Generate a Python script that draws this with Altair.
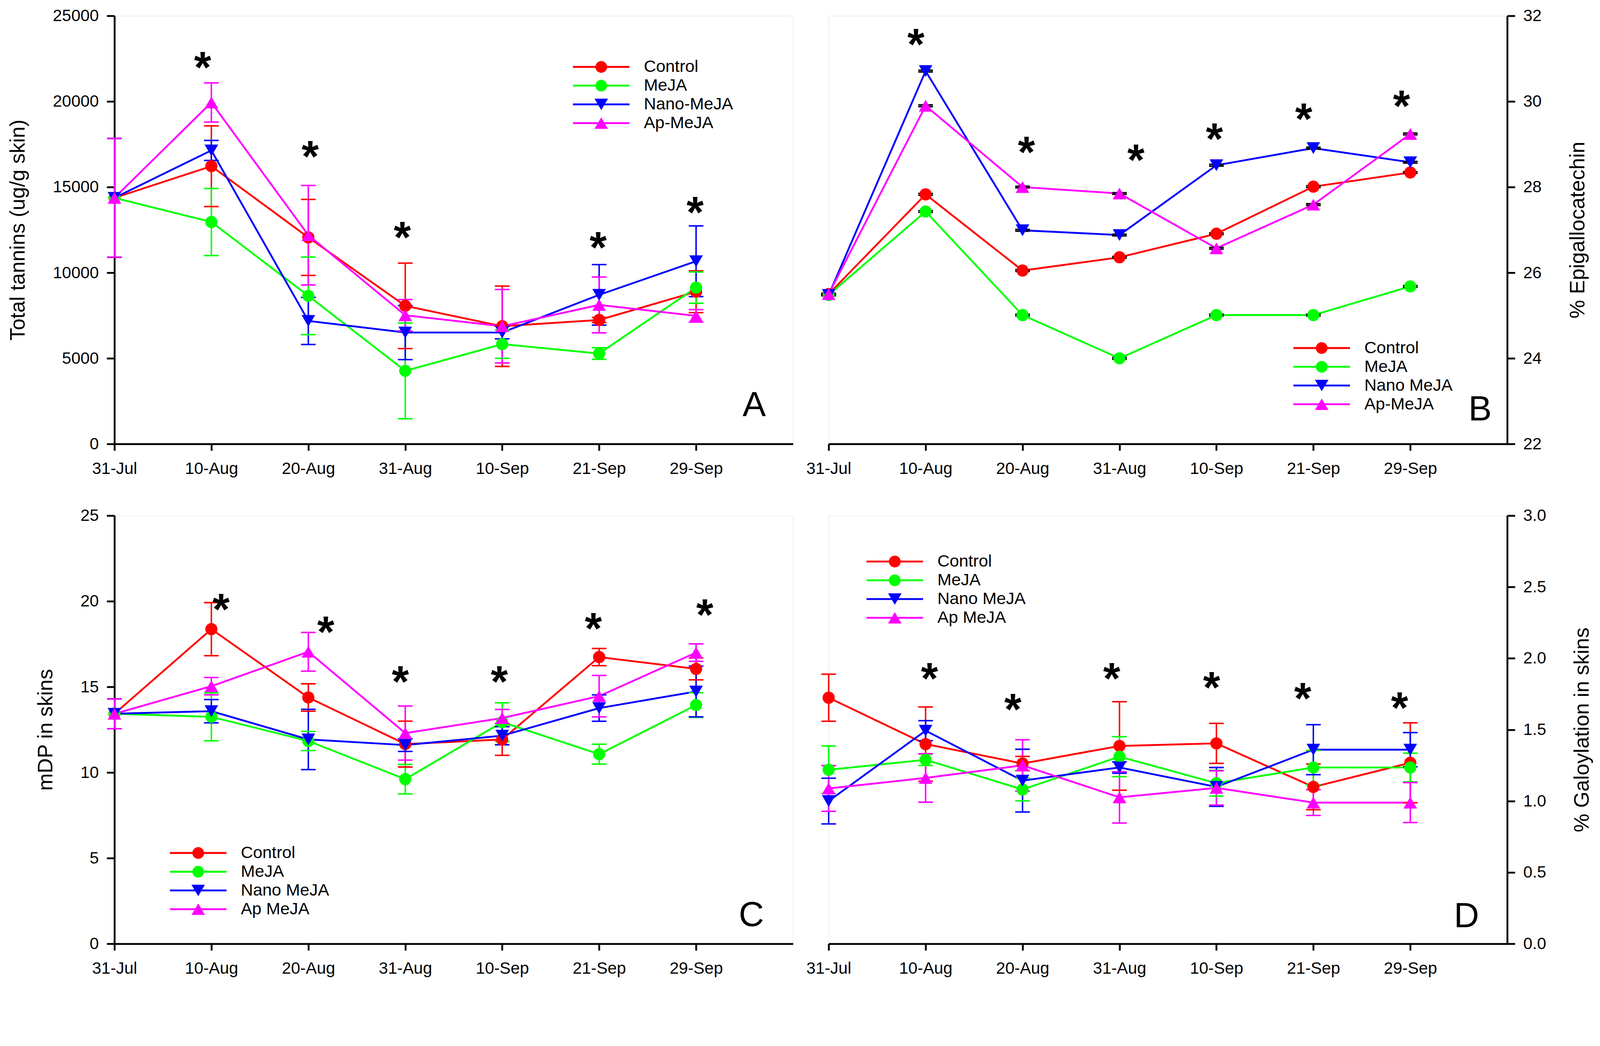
import altair as alt
import pandas as pd

DATES = ["31-Jul", "10-Aug", "20-Aug", "31-Aug", "10-Sep", "21-Sep", "29-Sep"]
COLORS = ["#FF0000", "#00FF00", "#0000FF", "#FF00FF"]
SHAPES = ["circle", "circle", "triangle-down", "triangle-up"]

A_LABELS = ["Control", "MeJA", "Nano-MeJA", "Ap-MeJA"]
A_CONTROL = [14370, 16220, 12060, 8065, 6873, 7240, 8890]
A_CONTROL_SD = [3470, 2355, 2220, 2495, 2345, 150, 1220]
A_MEJA = [14370, 12960, 8650, 4270, 5830, 5280, 9130]
A_MEJA_SD = [3470, 1960, 2265, 2795, 830, 340, 915]
A_NANO = [14370, 17140, 7185, 6507, 6507, 8706, 10670]
A_NANO_SD = [3470, 585, 1375, 1580, 370, 1770, 2065]
A_AP = [14370, 19940, 12190, 7515, 6873, 8120, 7480]
A_AP_SD = [3470, 1145, 2905, 915, 2145, 1630, 365]
A_STAR_X = [0.91, 2.02, 2.97, 4.99, 5.99]
A_STAR_Y = [22620, 17410, 12680, 12100, 14150]

B_LABELS = ["Control", "MeJA", "Nano MeJA", "Ap-MeJA"]
B_CONTROL = [25.50, 27.83, 26.05, 26.36, 26.91, 28.01, 28.34]
B_MEJA = [25.48, 27.43, 25.01, 24.00, 25.01, 25.01, 25.68]
B_NANO = [25.48, 30.71, 26.99, 26.88, 28.51, 28.91, 28.58]
B_AP = [25.50, 29.90, 28.00, 27.85, 26.57, 27.59, 29.24]
B_SD = [0.02, 0.02, 0.02, 0.02, 0.02, 0.02, 0.02]
B_STAR_X = [0.90, 2.04, 3.17, 3.98, 4.90, 5.91]
B_STAR_Y = [31.58, 29.06, 28.88, 29.37, 29.84, 30.14]

C_LABELS = ["Control", "\u00a0MeJA", "Nano MeJA", "Ap MeJA"]
C_CONTROL = [13.43, 18.37, 14.38, 11.66, 11.93, 16.74, 16.05]
C_CONTROL_SD = [0.87, 1.55, 0.80, 1.34, 0.93, 0.50, 0.64]
C_MEJA = [13.43, 13.25, 11.84, 9.61, 12.94, 11.07, 13.94]
C_MEJA_SD = [0.87, 1.40, 0.56, 0.86, 1.13, 0.58, 0.72]
C_NANO = [13.43, 13.58, 11.93, 11.60, 12.15, 13.76, 14.73]
C_NANO_SD = [0.87, 0.68, 1.76, 0.37, 0.53, 0.77, 1.48]
C_AP = [13.43, 15.04, 17.05, 12.30, 13.18, 14.46, 17.00]
C_AP_SD = [0.87, 0.51, 1.13, 1.58, 0.50, 1.21, 0.51]
C_STAR_X = [1.10, 2.18, 2.95, 3.97, 4.94, 6.09]
C_STAR_Y = [20.16, 18.82, 15.94, 15.94, 19.04, 19.83]

D_LABELS = ["Control", "MeJA", "Nano MeJA", "Ap MeJA"]
D_CONTROL = [1.724, 1.399, 1.263, 1.386, 1.404, 1.099, 1.268]
D_CONTROL_SD = [0.165, 0.26, 0.05, 0.31, 0.14, 0.16, 0.28]
D_MEJA = [1.219, 1.289, 1.081, 1.311, 1.125, 1.235, 1.235]
D_MEJA_SD = [0.167, 0.04, 0.08, 0.14, 0.09, 0.12, 0.10]
D_NANO = [1.000, 1.493, 1.143, 1.235, 1.099, 1.360, 1.360]
D_NANO_SD = [0.16, 0.07, 0.22, 0.04, 0.136, 0.175, 0.12]
D_AP = [1.088, 1.162, 1.250, 1.026, 1.092, 0.989, 0.989]
D_AP_SD = [0.16, 0.17, 0.18, 0.18, 0.12, 0.09, 0.14]
D_STAR_X = [1.04, 1.90, 2.92, 3.95, 4.89, 5.89]
D_STAR_Y = [1.934, 1.717, 1.934, 1.871, 1.794, 1.728]

LETTERS = ["A", "B", "C", "D"]
LETTER_X = [6.60, 6.72, 6.57, 6.58]
LETTER_Y = [2361, 22.84, 1.76, 0.203]

# legend symbols: line segment + marker (unit = sqrt(size)/2)
LEGEND_PATHS = [
    "M-4.81,-0.16L4.81,-0.16L4.81,0.16L-4.81,0.16Z M-1,0A1,1,0,1,1,1,0A1,1,0,1,1,-1,0Z",
    "M-4.81,-0.16L4.81,-0.16L4.81,0.16L-4.81,0.16Z M-1,0A1,1,0,1,1,1,0A1,1,0,1,1,-1,0Z",
    "M-4.81,-0.16L4.81,-0.16L4.81,0.16L-4.81,0.16Z M-1.15,-0.97L1.15,-0.97L0,0.97Z",
    "M-4.81,-0.16L4.81,-0.16L4.81,0.16L-4.81,0.16Z M0,-0.97L1.15,0.97L-1.15,0.97Z",
]
MARKER_SIZES = [1100, 1100, 1369, 1369]
FONT = "Liberation Sans"
LABEL_EXPR = "[" + ",".join("'%s'" % d for d in DATES) + "][datum.value]"


def panel(labels, vals, sds, ydom, yticks, yfmt, ytitle, orient, tpad,
          legx, legy, star_x, star_y, letter, lx, ly, err_black=False):
    rows = []
    for lab, vv, ss in zip(labels, vals, sds):
        for i, (v, s) in enumerate(zip(vv, ss)):
            rows.append({"t": i, "series": lab, "v": v, "lo": v - s, "hi": v + s})
    df = pd.DataFrame(rows)

    xaxis = alt.Axis(values=list(range(7)), labelExpr=LABEL_EXPR, title=None,
                     labelFlush=False, grid=False, tickSize=18, labelPadding=27,
                     labelFont=FONT, labelFontSize=45, labelColor="black",
                     domainColor="black", domainWidth=5, tickColor="black",
                     tickWidth=5, labelOverlap=False)
    xscale = alt.Scale(domain=[0, 7], nice=False, zero=False)
    yaxis_kw = dict(values=yticks, format=yfmt, title=ytitle, grid=False,
                    orient=orient, tickSize=21, labelPadding=22,
                    labelFont=FONT, labelFontSize=45, labelColor="black",
                    titleFont=FONT, titleFontSize=57, titleFontWeight="normal",
                    titleColor="black", titlePadding=tpad,
                    domainColor="black", domainWidth=5, tickColor="black",
                    tickWidth=5, labelOverlap=False)
    if orient == "right":
        yaxis_kw.update(titleAngle=270, titleBaseline="top")
    yaxis = alt.Axis(**yaxis_kw)
    yscale = alt.Scale(domain=ydom, nice=False, zero=False)

    X = alt.X("t:Q", scale=xscale, axis=xaxis)

    def Y(f):
        return alt.Y(f + ":Q", scale=yscale, axis=yaxis)

    cscale = alt.Scale(domain=labels, range=COLORS)
    color = alt.Color("series:N", scale=cscale, legend=None)
    errcolor = alt.value("black") if err_black else color

    base = alt.Chart(df)

    leg = alt.Legend(orient="none", legendX=legx, legendY=legy, title=None,
                     labelFont=FONT, labelFontSize=46, labelColor="black",
                     symbolSize=1024, symbolStrokeWidth=0, symbolOpacity=1,
                     labelOffset=93, rowPadding=5, labelLimit=2000)
    # invisible carrier layer whose only job is the legend (first, so its
    # legend definition wins the merge with the other layers)
    legend_layer = base.transform_filter(
        alt.FieldEqualPredicate(field="t", equal=3)).mark_point(
        filled=True, opacity=0, size=1).encode(
        x=X, y=Y("v"),
        color=alt.Color("series:N", scale=cscale, legend=leg),
        shape=alt.Shape("series:N", scale=alt.Scale(domain=labels, range=LEGEND_PATHS),
                        legend=leg),
    )

    lines = base.mark_line(strokeWidth=5).encode(x=X, y=Y("v"), color=color)
    stems = base.mark_rule(strokeWidth=4).encode(x=X, y=Y("lo"), y2="hi:Q",
                                                 color=errcolor)
    cap_lo = base.mark_tick(orient="horizontal", size=40, thickness=4,
                            opacity=1).encode(x=X, y=Y("lo"), color=errcolor)
    cap_hi = base.mark_tick(orient="horizontal", size=40, thickness=4,
                            opacity=1).encode(x=X, y=Y("hi"), color=errcolor)
    layers = [legend_layer, lines, stems, cap_lo, cap_hi]
    for lab, shp, sz in zip(labels, SHAPES, MARKER_SIZES):
        layers.append(
            base.transform_filter(alt.FieldEqualPredicate(field="series", equal=lab))
            .mark_point(shape=shp, filled=True, size=sz, opacity=1, strokeWidth=0)
            .encode(x=X, y=Y("v"), color=color)
        )
    sdf = pd.DataFrame({"t": star_x, "v": star_y})
    stars = alt.Chart(sdf).mark_text(text="*", font=FONT, fontSize=120,
                                     fontWeight="bold", color="black",
                                     baseline="middle", dy=34).encode(x=X, y=Y("v"))
    ldf = pd.DataFrame({"t": [lx], "v": [ly], "lab": [letter]})
    letter_mark = alt.Chart(ldf).mark_text(font=FONT, fontSize=95, color="black",
                                           baseline="middle", dy=5).encode(
        x=X, y=Y("v"), text="lab:N")
    layers += [stars, letter_mark]
    return alt.layer(*layers).properties(width=1847, height=1165)


pA = panel(A_LABELS, [A_CONTROL, A_MEJA, A_NANO, A_AP],
           [A_CONTROL_SD, A_MEJA_SD, A_NANO_SD, A_AP_SD],
           [0, 25000], [0, 5000, 10000, 15000, 20000, 25000], "d",
           "Total tannins (ug/g skin)", "left", 65, 1302, 116,
           A_STAR_X, A_STAR_Y, LETTERS[0], LETTER_X[0], LETTER_Y[0])
pB = panel(B_LABELS, [B_CONTROL, B_MEJA, B_NANO, B_AP],
           [B_SD, B_SD, B_SD, B_SD],
           [22, 32], [22, 24, 26, 28, 30, 32], "d",
           "% Epigallocatechin", "right", 71, 1319, 881,
           B_STAR_X, B_STAR_Y, LETTERS[1], LETTER_X[1], LETTER_Y[1], err_black=True)
pC = panel(C_LABELS, [C_CONTROL, C_MEJA, C_NANO, C_AP],
           [C_CONTROL_SD, C_MEJA_SD, C_NANO_SD, C_AP_SD],
           [0, 25], [0, 5, 10, 15, 20, 25], "d",
           "mDP in skins", "left", 65, 205, 895,
           C_STAR_X, C_STAR_Y, LETTERS[2], LETTER_X[2], LETTER_Y[2])
pD = panel(D_LABELS, [D_CONTROL, D_MEJA, D_NANO, D_AP],
           [D_CONTROL_SD, D_MEJA_SD, D_NANO_SD, D_AP_SD],
           [0, 3], [0, 0.5, 1.0, 1.5, 2.0, 2.5, 3.0], ".1f",
           "% Galoylation in skins", "right", 71, 157, 102,
           D_STAR_X, D_STAR_Y, LETTERS[3], LETTER_X[3], LETTER_Y[3])

chart = alt.concat(pA, pB, pC, pD, columns=2,
                   spacing=alt.RowColnumber(row=195, column=97),
                   bounds="flush").resolve_scale(
    color="independent", shape="independent"
).resolve_legend(
    color="independent", shape="independent"
).properties(
    padding={"left": 11, "top": -70, "right": 10, "bottom": 10}
).configure_view(stroke="black", strokeWidth=5).configure(background="white")

chart.save("out.html", embed_options={"renderer": "svg", "actions": False})
